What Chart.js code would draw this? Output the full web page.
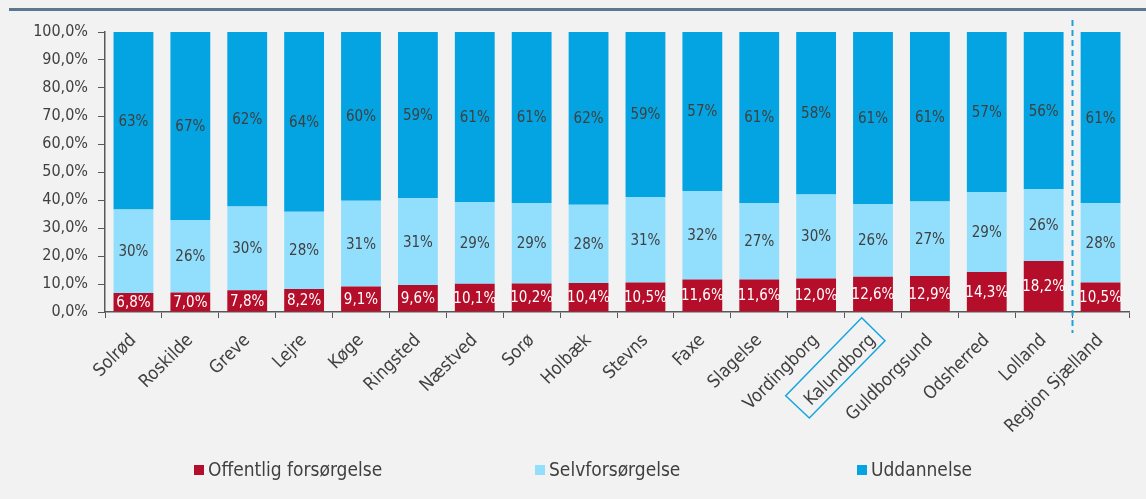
<!DOCTYPE html>
<html>
<head>
<meta charset="utf-8">
<script src="https://cdn.jsdelivr.net/npm/chart.js@4.4.0/dist/chart.umd.min.js"></script>
<style>
  html, body { margin: 0; padding: 0; background: #f2f2f2; }
  #wrap { position: relative; width: 1146px; height: 499px; overflow: hidden; }
  #title { position: absolute; left: 22px; top: -18px; font: bold 21px "DejaVu Sans"; line-height: 21px; color: #404040; }
  #rule { position: absolute; left: 9px; right: 0; top: 8px; height: 3px; background: #5e7690; }
  #chart { position: absolute; left: 0; top: 0; }
</style>
</head>
<body>
<div id="wrap">
  <div id="title">2020</div>
  <div id="rule"></div>
  <canvas id="chart" width="1146" height="499"></canvas>
</div>
<script>
const kommuner = ["Solrød", "Roskilde", "Greve", "Lejre", "Køge", "Ringsted", "Næstved", "Sorø", "Holbæk",
  "Stevns", "Faxe", "Slagelse", "Vordingborg", "Kalundborg", "Guldborgsund", "Odsherred", "Lolland", "Region Sjælland"];
const offentlig  = [6.8, 7.0, 7.8, 8.2, 9.1, 9.6, 10.1, 10.2, 10.4, 10.5, 11.6, 11.6, 12.0, 12.6, 12.9, 14.3, 18.2, 10.5];
const selv       = [29.8, 25.9, 29.9, 27.6, 30.6, 31.0, 29.2, 28.7, 27.9, 30.6, 31.6, 27.3, 30.0, 26.0, 26.6, 28.6, 25.6, 28.3];
const uddannelse = [63.4, 67.1, 62.3, 64.2, 60.3, 59.4, 60.7, 61.1, 61.7, 58.9, 56.8, 61.1, 58.0, 61.4, 60.5, 57.1, 56.2, 61.2];
const seriesNames = ["Offentlig forsørgelse", "Selvforsørgelse", "Uddannelse"];
const yMax = 100, yStep = 10;

const FONT = '"DejaVu Sans Condensed", "DejaVu Sans", sans-serif';
const TXT = '#404040';
const AXIS = '#595959';
const colors = ['#b50e2b', '#91dffd', '#03a4e1'];

// labels in the middle of every segment
const barLabels = {
  id: 'barLabels',
  afterDatasetsDraw(chart) {
    const ctx = chart.ctx;
    ctx.save();
    ctx.font = '15px ' + FONT;
    ctx.textAlign = 'center';
    ctx.textBaseline = 'middle';
    chart.data.datasets.forEach((ds, i) => {
      const meta = chart.getDatasetMeta(i);
      meta.data.forEach((bar, j) => {
        const v = ds.data[j];
        const txt = i == 0 ? v.toFixed(1).replace('.', ',') + '%' : Math.round(v) + '%';
        ctx.fillStyle = i == 0 ? '#ffffff' : TXT;
        ctx.fillText(txt, bar.x, (bar.y + bar.base) / 2 + 1);
      });
    });
    ctx.restore();
  }
};

// dashed separator, box round Kalundborg, legend
const extras = {
  id: 'extras',
  afterDraw(chart) {
    const ctx = chart.ctx;
    const xs = chart.scales.x;
    const bottom = chart.chartArea.bottom;
    ctx.save();

    // separator before region total
    const last = kommuner.length - 1;
    const sx = Math.round((xs.getPixelForValue(last - 1) + xs.getPixelForValue(last)) / 2) + 0.5;
    ctx.strokeStyle = '#1ea2dd';
    ctx.lineWidth = 2;
    ctx.setLineDash([6, 4]);
    ctx.beginPath();
    ctx.moveTo(sx, 20);
    ctx.lineTo(sx, bottom + 21);
    ctx.stroke();
    ctx.setLineDash([]);

    // highlight Kalundborg
    const cx = xs.getPixelForValue(kommuner.indexOf("Kalundborg"));
    ctx.strokeStyle = '#16a5e0';
    ctx.lineWidth = 1.5;
    ctx.beginPath();
    ctx.moveTo(cx - 11.3, bottom + 5.7);
    ctx.lineTo(cx + 12, bottom + 28.7);
    ctx.lineTo(cx - 63.7, bottom + 106);
    ctx.lineTo(cx - 87.3, bottom + 83.7);
    ctx.closePath();
    ctx.stroke();

    // legend
    const legendX = [194, 535, 857];
    const legendY = 470;
    ctx.font = '19px ' + FONT;
    ctx.textBaseline = 'middle';
    ctx.textAlign = 'left';
    chart.data.datasets.forEach((ds, i) => {
      ctx.fillStyle = ds.backgroundColor;
      ctx.fillRect(legendX[i], legendY - 5, 10, 10);
      ctx.fillStyle = TXT;
      ctx.fillText(ds.label, legendX[i] + 14, legendY + 1);
    });
    ctx.restore();
  }
};

new Chart(document.getElementById('chart'), {
  type: 'bar',
  data: {
    labels: kommuner,
    datasets: [
      { label: seriesNames[0], data: offentlig, backgroundColor: colors[0] },
      { label: seriesNames[1], data: selv, backgroundColor: colors[1] },
      { label: seriesNames[2], data: uddannelse, backgroundColor: colors[2] }
    ]
  },
  options: {
    responsive: false,
    animation: false,
    barPercentage: 0.7,
    categoryPercentage: 1.0,
    layout: { padding: { left: 0, right: 17, top: 32, bottom: 37 } },
    plugins: {
      legend: { display: false },
      tooltip: { enabled: false }
    },
    scales: {
      x: {
        stacked: true,
        afterFit: (s) => { s.height = 150; },
        grid: { drawOnChartArea: false, drawTicks: true, tickLength: 6, color: AXIS, offset: true },
        border: { display: true, color: AXIS, width: 1.5 },
        ticks: { minRotation: 45, maxRotation: 45, padding: 12, color: TXT, font: { family: FONT, size: 18 } }
      },
      y: {
        stacked: true,
        min: 0,
        max: yMax,
        afterFit: (s) => { s.width = 105; },
        grid: { drawOnChartArea: false, drawTicks: true, tickLength: 7, color: AXIS },
        border: { display: true, color: AXIS, width: 1.5 },
        ticks: {
          stepSize: yStep,
          padding: 10,
          color: TXT,
          font: { family: FONT, size: 16 },
          callback: (v) => v.toFixed(1).replace('.', ',') + '%'
        }
      }
    }
  },
  plugins: [barLabels, extras]
});
</script>
</body>
</html>
